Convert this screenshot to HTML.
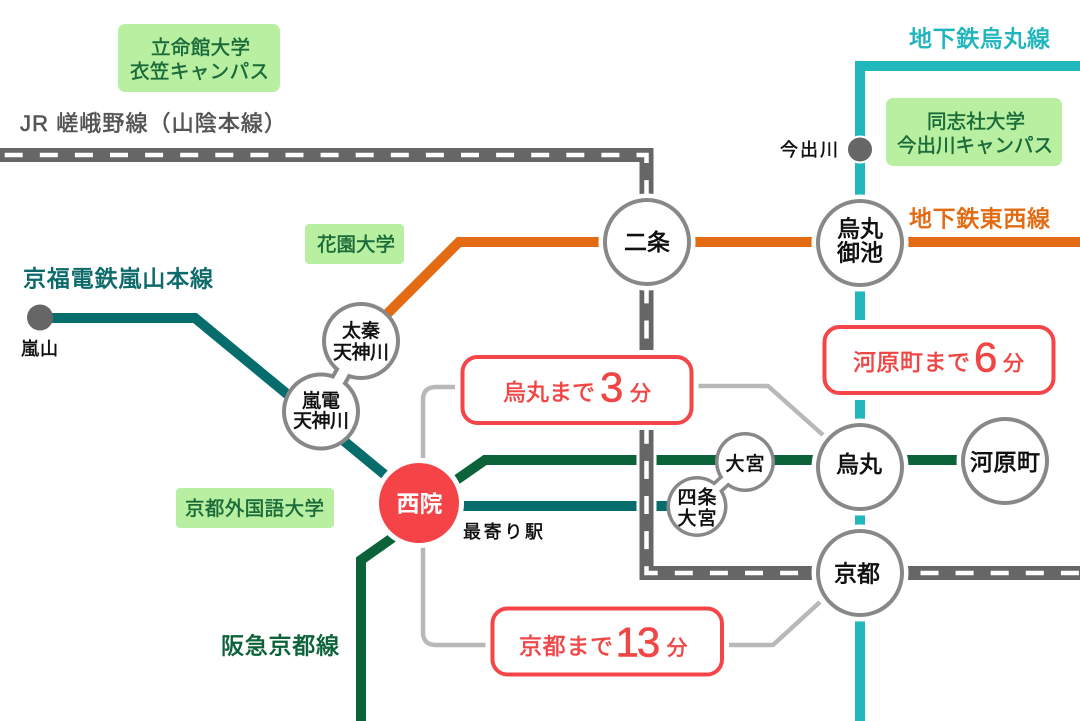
<!DOCTYPE html>
<html><head><meta charset="utf-8">
<style>
html,body{margin:0;padding:0;background:#fff;}
svg{display:block;}
text{font-family:"Liberation Sans","Noto Sans CJK JP",sans-serif;}
</style></head><body>
<svg width="1080" height="721" viewBox="0 0 1080 721" xmlns="http://www.w3.org/2000/svg">
<rect width="1080" height="721" fill="#fff"/>

<!-- green university boxes -->
<g fill="#b9efa0">
<rect x="118" y="24" width="162" height="68" rx="7"/>
<rect x="305" y="224" width="99" height="40" rx="4"/>
<rect x="176" y="488" width="158" height="40" rx="4"/>
<rect x="886" y="98" width="176" height="68" rx="7"/>
</g>
<g fill="#1b6b3b" stroke="#1b6b3b" stroke-width="0.5" font-size="19.5" text-anchor="middle">
<text x="200.5" y="54" textLength="99">立命館大学</text>
<text x="199.5" y="78" textLength="139">衣笠キャンパス</text>
<text x="356" y="251" textLength="78">花園大学</text>
<text x="254.5" y="515" textLength="139">京都外国語大学</text>
<text x="976" y="128" textLength="98">同志社大学</text>
<text x="975" y="152" textLength="156">今出川キャンパス</text>
</g>

<!-- lines -->
<g fill="none" stroke-linejoin="miter">
<path d="M1080,66 H860 V721" stroke="#20b7bd" stroke-width="10"/>
<path d="M1080,242 H459 L361,340" stroke="#e36b13" stroke-width="10"/>
<path d="M40,318 H195 L419,503" stroke="#066c6c" stroke-width="10"/>
<path d="M419,506 H697" stroke="#066c6c" stroke-width="10"/>
<path d="M1005,460 H485 L419,506" stroke="#0c6339" stroke-width="10"/>
<path d="M419,519 L361,560 V721" stroke="#0c6339" stroke-width="10"/>
</g>

<!-- gray connectors -->
<g fill="none" stroke="#b8b8b8" stroke-width="4.5" stroke-linejoin="round">
<path d="M423,458 V400 Q423,387 436,387 H455"/>
<path d="M698,386 H768 L823,435"/>
<path d="M423,547 V632 Q423,645 436,645 H486"/>
<path d="M728,645 H773 L820,602"/>
</g>

<!-- JR line -->
<g fill="none">
<path d="M0,155 H646.5 V573 H1080" stroke="#fff" stroke-width="20"/>
<path d="M0,155 H646.5 V573 H1080" stroke="#666" stroke-width="14"/>
<path d="M0,155 H646.5 V573 H1080" stroke="#fff" stroke-width="4.5" stroke-dasharray="18 17.1" stroke-dashoffset="30.4"/>
</g>

<!-- callout boxes -->
<g fill="#fff">
<rect x="462.5" y="357" width="229" height="66" rx="15" stroke="#fff" stroke-width="14"/>
<rect x="824.5" y="327" width="229" height="66" rx="15" stroke="#fff" stroke-width="14"/>
<rect x="492.5" y="608.5" width="229.5" height="66" rx="15" stroke="#fff" stroke-width="14"/>
<rect x="462.5" y="357" width="229" height="66" rx="15" stroke="#f44648" stroke-width="4"/>
<rect x="824.5" y="327" width="229" height="66" rx="15" stroke="#f44648" stroke-width="4"/>
<rect x="492.5" y="608.5" width="229.5" height="66" rx="15" stroke="#f44648" stroke-width="4"/>
</g>
<g fill="#f04646" stroke="#f04646" stroke-width="0.6">
<text x="503" y="400" font-size="23" textLength="92">烏丸まで</text>
<text x="630" y="400.5" font-size="21" textLength="21.5">分</text>
<text x="853" y="370" font-size="23" textLength="117">河原町まで</text>
<text x="1003" y="370.5" font-size="21" textLength="21.5">分</text>
<text x="519" y="654" font-size="23" textLength="94">京都まで</text>
<text x="666.5" y="655" font-size="21" textLength="21.5">分</text>
</g>
<g fill="#f04646" stroke="#f04646" stroke-width="0.6">
<text x="600" y="401.5" font-size="42">3</text>
<text x="974" y="371.7" font-size="42">6</text>
<text x="615.5" y="656.7" font-size="42" letter-spacing="-2">13</text>
</g>

<!-- big station halos -->
<g fill="#fff">
<circle cx="647" cy="242" r="48.5"/>
<circle cx="860" cy="243" r="48.5"/>
<circle cx="860" cy="467" r="48.5"/>
<circle cx="860" cy="573" r="48.5"/>
<circle cx="1005" cy="461" r="48.5"/>
<circle cx="419" cy="503" r="45"/>
</g>
<g fill="#fff" stroke="#888" stroke-width="4">
<circle cx="647" cy="242" r="42"/>
<circle cx="860" cy="243" r="42"/>
<circle cx="860" cy="467" r="42"/>
<circle cx="860" cy="573" r="42"/>
<circle cx="1005" cy="461" r="42"/>
</g>
<circle cx="419" cy="503" r="40" fill="#f44447"/>

<!-- joined pairs -->
<g fill="#888">
<circle cx="361" cy="341" r="39"/>
<circle cx="321" cy="411.5" r="39"/>
<circle cx="745" cy="462" r="30"/>
<circle cx="697" cy="506.5" r="30.5"/>
</g>
<line x1="361" y1="341" x2="321" y2="411.5" stroke="#888" stroke-width="18"/>
<line x1="745" y1="462" x2="697" y2="506.5" stroke="#888" stroke-width="14"/>
<g fill="#fff">
<circle cx="361" cy="341" r="35"/>
<circle cx="321" cy="411.5" r="35"/>
<circle cx="745" cy="462" r="26.5"/>
<circle cx="697" cy="506.5" r="27"/>
</g>
<line x1="361" y1="341" x2="321" y2="411.5" stroke="#fff" stroke-width="10"/>
<line x1="745" y1="462" x2="697" y2="506.5" stroke="#fff" stroke-width="7"/>

<!-- small dots -->
<circle cx="860" cy="149.5" r="13" fill="#666" stroke="#fff" stroke-width="2"/>
<circle cx="40" cy="317.5" r="13" fill="#666"/>

<!-- station names -->
<g fill="#111" stroke="#111" stroke-width="0.7" text-anchor="middle" font-size="23">
<text x="647" y="250" textLength="46">二条</text>
<text x="860" y="236.5" textLength="46">烏丸</text>
<text x="860" y="260.5" textLength="46">御池</text>
<text x="859" y="472" textLength="46">烏丸</text>
<text x="1005" y="470" textLength="70">河原町</text>
<text x="857" y="581.5" textLength="46">京都</text>
</g>
<g fill="#111" stroke="#111" stroke-width="0.6" text-anchor="middle" font-size="19">
<text x="361" y="337" textLength="38">太秦</text>
<text x="361" y="358.5" textLength="56">天神川</text>
<text x="321" y="407" textLength="38">嵐電</text>
<text x="321" y="427" textLength="56">天神川</text>
<text x="745" y="470" textLength="39">大宮</text>
<text x="697" y="503.5" textLength="39">四条</text>
<text x="697" y="524.5" textLength="39">大宮</text>
</g>
<text x="419.5" y="511.5" fill="#fff" font-size="23" font-weight="700" text-anchor="middle" textLength="46">西院</text>

<!-- line labels -->
<text x="20" y="131" font-size="22" fill="#555" stroke="#555" stroke-width="0.6" textLength="266">JR 嵯峨野線（山陰本線）</text>
<text x="909" y="46.5" font-size="23" fill="#20b5bd" stroke="#20b5bd" stroke-width="0.7" textLength="141">地下鉄烏丸線</text>
<text x="909" y="226.5" font-size="23" fill="#e36b13" stroke="#e36b13" stroke-width="0.7" textLength="141">地下鉄東西線</text>
<text x="23" y="286.5" font-size="23" fill="#0d6a6a" stroke="#0d6a6a" stroke-width="0.7" textLength="190">京福電鉄嵐山本線</text>
<text x="221" y="653.5" font-size="23" fill="#0c6339" stroke="#0c6339" stroke-width="0.7" textLength="118">阪急京都線</text>
<g fill="#111" stroke="#111" stroke-width="0.5">
<text x="780" y="156" font-size="18" textLength="58">今出川</text>
<text x="21" y="355" font-size="18" textLength="37">嵐山</text>
<text x="463" y="538" font-size="18" textLength="80">最寄り駅</text>
</g>
</svg>
</body></html>
